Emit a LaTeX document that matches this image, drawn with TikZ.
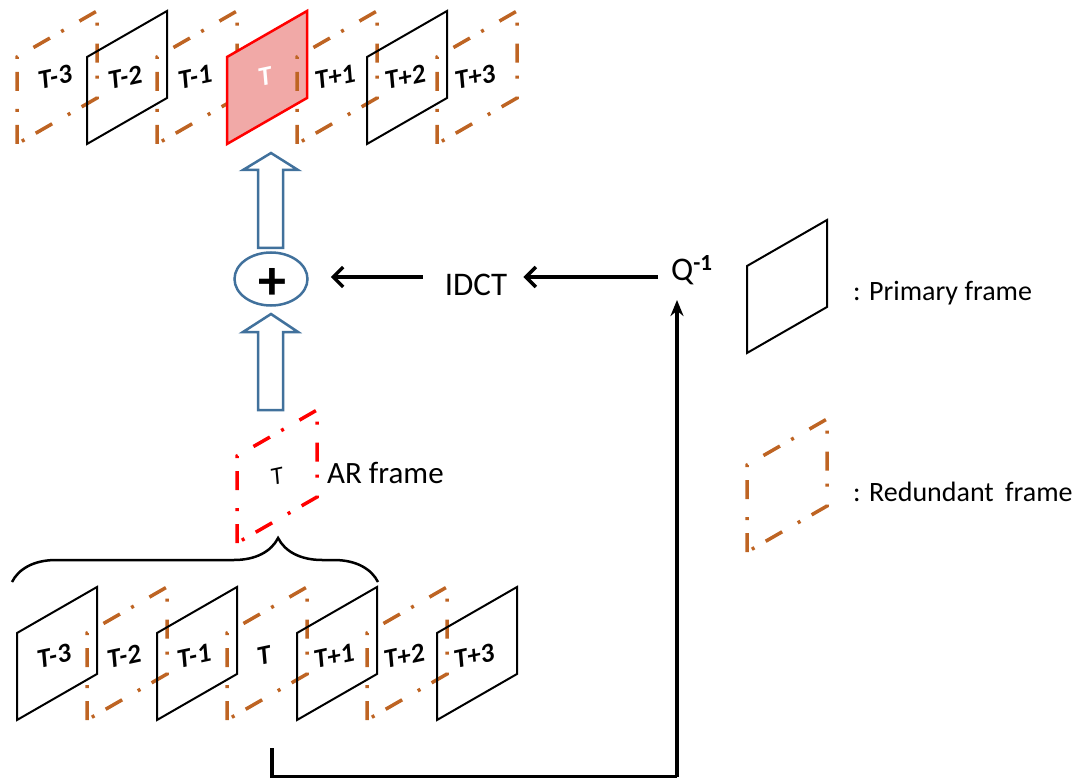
\documentclass[tikz,border=0pt]{standalone}
\usepackage{fontspec}
\usepackage{graphicx}
\setmainfont{Carlito}
\newfontfamily\lblfont{Carlito}[UprightFont=*-BoldItalic]
\newcommand\flab[1]{\rotatebox{12}{#1}}
\usetikzlibrary{arrows.meta,shapes.geometric,decorations.pathreplacing}
\definecolor{frbrown}{RGB}{190,100,35}
\definecolor{frpink}{RGB}{241,169,167}
\definecolor{arblue}{RGB}{65,113,156}
\begin{document}
\begin{tikzpicture}[x=1pt,y=-1pt,
  vframe/.pic={\draw[pic actions] (0,87) -- (0,0) -- (80,-46) -- (80,41) -- cycle;},
  prim/.style={draw=black,line width=2pt},
  redun/.style={draw=frbrown,line width=3.5pt,dash pattern=on 19pt off 13pt on 3pt off 18pt},
  redfr/.style={draw=red,fill=frpink,line width=2.5pt},
  arfr/.style={draw=red,line width=3.5pt,dash pattern=on 19pt off 13pt on 3pt off 18pt},
  lbl/.style={font=\fontsize{27}{30}\lblfont,inner sep=0pt},
  txt/.style={font=\fontsize{33}{36}\selectfont,inner sep=0pt},
  legtxt/.style={font=\fontsize{28}{32}\selectfont,inner sep=0pt,anchor=west},
  blockar/.style={draw=arblue,fill=white,line width=2.5pt,line join=miter},
  arr/.style={line width=3.5pt,-{Straight Barb[length=10pt,width=20pt]}},
  uparr/.style={line width=3.5pt,-{Stealth[length=16pt,width=13pt]}}
]
\useasboundingbox (0,0) rectangle (1085,778);

% top row
\pic[redun] at (17,57) {vframe};
\node[lbl] (tA3) at (55,77) {\flab{T-3}};
\pic[prim] at (87,57) {vframe};
\node[lbl] (tA2) at (125,77) {\flab{T-2}};
\pic[redun] at (157,57) {vframe};
\node[lbl] (tA1) at (195,77) {\flab{T-1}};
\pic[redfr] at (227,57) {vframe};
\node[lbl,text=white] (tA0) at (265,77) {\flab{T}};
\pic[redun] at (297,57) {vframe};
\node[lbl] (tB1) at (335,77) {\flab{T+1}};
\pic[prim] at (367,57) {vframe};
\node[lbl] (tB2) at (405,77) {\flab{T+2}};
\pic[redun] at (437,57) {vframe};
\node[lbl] (tB3) at (475,77) {\flab{T+3}};

% bottom row
\pic[prim] at (17,633) {vframe};
\node[lbl] (bA3) at (54,656) {\flab{T-3}};
\pic[redun] at (87,633) {vframe};
\node[lbl] (bA2) at (124,656) {\flab{T-2}};
\pic[prim] at (157,633) {vframe};
\node[lbl] (bA1) at (194,656) {\flab{T-1}};
\pic[redun] at (227,633) {vframe};
\node[lbl] (bA0) at (264,656) {\flab{T}};
\pic[prim] at (297,633) {vframe};
\node[lbl] (bB1) at (334,656) {\flab{T+1}};
\pic[redun] at (367,633) {vframe};
\node[lbl] (bB2) at (404,656) {\flab{T+2}};
\pic[prim] at (437,633) {vframe};
\node[lbl] (bB3) at (474,656) {\flab{T+3}};

% brace
\coordinate (bl) at (12,582);
\coordinate (br) at (378,582);
\draw[line width=2.5pt,decorate,decoration={brace,amplitude=44pt,aspect=0.727}] (bl) -- (br);

% AR frame
\pic[arfr] at (237,456) {vframe};
\node[inner sep=0pt,font=\fontsize{25}{28}\selectfont\itshape] (arT) at (277,476) {\flab{T}};
\node[txt,anchor=base west,font=\fontsize{31}{34}\selectfont] (arlbl) at (327,483) {AR frame};

% adder
\node[draw=arblue,fill=white,line width=2.5pt,ellipse,minimum width=73pt,minimum height=53pt,inner sep=0pt] (plus) at (271,279) {};
\node[inner sep=0pt,font=\fontsize{56}{56}\selectfont\bfseries] (plussym) at (272,284) {+};

% block arrows
\draw[blockar] (258,410) -- (258,332) -- (243,332) -- (271,314) -- (298,332) -- (283,332) -- (283,410) -- cycle;
\draw[blockar] (258,248) -- (258,170) -- (243,170) -- (271,153) -- (298,170) -- (283,170) -- (283,248) -- cycle;

% IDCT and Q
\node[txt,anchor=base] (idct) at (476,295) {IDCT};
\node[txt,anchor=base west] (q) at (671,280) {Q\textsuperscript{\bfseries -1}};

\draw[arr,shorten <=22pt,shorten >=22pt] ([yshift=18pt]idct.base west) -- ([yshift=18pt]idct.base west -| plus.east);
\draw[arr,shorten <=13pt,shorten >=16pt] ([yshift=3pt]q.base west) -- ([yshift=3pt]q.base west -| idct.east);

\coordinate (src) at (272,748);
\coordinate (qin) at (677,300);
\draw[line width=4pt] (src) -- (272,777) -- (677,777);
\draw[uparr] (677,777) -- (qin);

% legend
\pic[prim] at (747,266) {vframe};
\node[legtxt] (legp) at (853,293) {: Primary frame};
\pic[redun] at (747,465) {vframe};
\node[legtxt] (legr) at (853,492) {: Redundant\hspace{5pt} frame};
\end{tikzpicture}
\end{document}
